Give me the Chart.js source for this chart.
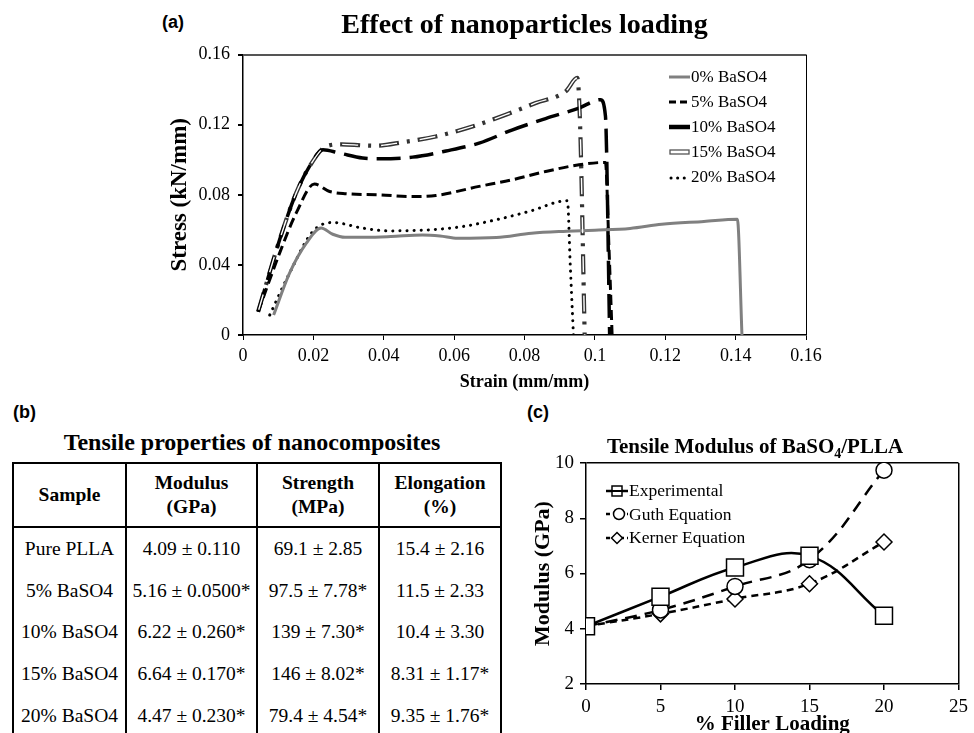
<!DOCTYPE html>
<html>
<head>
<meta charset="utf-8">
<script src="https://cdn.jsdelivr.net/npm/chart.js@4.4.1/dist/chart.umd.min.js"></script>
<style>
    html, body { margin: 0; padding: 0; background: #fff; }
    body { width: 974px; height: 733px; overflow: hidden; position: relative; font-family: 'Liberation Serif', 'Times New Roman', serif; color: #000; }
    canvas { position: absolute; }
    .panel-label { position: absolute; font-family: 'Liberation Sans', Arial, sans-serif; font-weight: bold; font-size: 18px; line-height: 18px; }
    .html-title { position: absolute; text-align: center; font-weight: bold; white-space: nowrap; }
    .legend { position: absolute; }
    .legend-row { display: flex; align-items: center; white-space: nowrap; }
    .legend-row svg { flex: none; }
    #propsTable { position: absolute; left: 12px; top: 462px; border-collapse: collapse; table-layout: fixed; width: 488px; font-size: 19.5px; }
    #propsTable th { border: 2px solid #000; height: 62px; padding: 0; font-weight: bold; line-height: 24px; text-align: center; }
    #propsTable td { border-left: 2px solid #000; border-right: 2px solid #000; height: 41.7px; padding: 0; text-align: center; white-space: nowrap; overflow: visible; }
</style>
</head>
<body>
<div class="panel-label" style="left:162px; top:13px;">(a)</div>
<div class="panel-label" style="left:13px; top:403px;">(b)</div>
<div class="panel-label" style="left:527px; top:403px;">(c)</div>

<canvas id="stressChart" width="922" height="400" style="left:60px; top:0px;"></canvas>
<div class="legend" id="stressLegend" style="left:669px; top:64px;"></div>

<div class="html-title" style="left:52px; top:428px; width:400px; font-size:24px; line-height:28px;">Tensile properties of nanocomposites</div>
<table id="propsTable">
    <colgroup><col style="width:113px"><col style="width:131px"><col style="width:122px"><col style="width:122px"></colgroup>
    <thead id="propsHead"></thead>
    <tbody id="propsBody"></tbody>
</table>

<canvas id="modulusChart" width="454" height="300" style="left:520px; top:445px;"></canvas>
<div class="html-title" style="left:555px; top:434px; width:400px; font-size:21px; line-height:25px;">Tensile Modulus of BaSO<span style="font-size:14px; position:relative; top:5px;">4</span>/PLLA</div>
<div class="legend" id="modulusLegend" style="left:606px; top:479px;"></div>

<script>
// ---- Panel (a): stress-strain curves (strain mm/mm, stress kN/mm) ----
var strain0 = [0.0087, 0.0132, 0.0180, 0.0222, 0.0255, 0.0290, 0.0350, 0.0420, 0.0510, 0.0560, 0.0610, 0.0720, 0.0820, 0.0920, 0.1000, 0.1100, 0.1190, 0.1310, 0.1405, 0.1418];
var stress0 = [0.0114, 0.0352, 0.0524, 0.0610, 0.0575, 0.0558, 0.0558, 0.0562, 0.0571, 0.0565, 0.0552, 0.0556, 0.0581, 0.0592, 0.0598, 0.0608, 0.0632, 0.0648, 0.0661, 0.0];

var strain5 = [0.0043, 0.0104, 0.0151, 0.0203, 0.0246, 0.0293, 0.0388, 0.0482, 0.0548, 0.0671, 0.0766, 0.0860, 0.0955, 0.1030, 0.1040, 0.1049];
var stress5 = [0.0133, 0.0467, 0.0695, 0.0861, 0.0819, 0.0806, 0.0800, 0.0790, 0.0796, 0.0848, 0.0886, 0.0933, 0.0971, 0.0985, 0.0500, 0.0];

var strain10 = [0.0043, 0.0104, 0.0151, 0.0189, 0.0227, 0.0274, 0.0340, 0.0388, 0.0482, 0.0577, 0.0671, 0.0766, 0.0860, 0.0955, 0.1016, 0.1030, 0.1042];
var stress10 = [0.0133, 0.0543, 0.0810, 0.0962, 0.1057, 0.1038, 0.1010, 0.1006, 0.1015, 0.1050, 0.1095, 0.1171, 0.1235, 0.1295, 0.1343, 0.1250, 0.0];

var strain15 = [0.0043, 0.0104, 0.0151, 0.0189, 0.0236, 0.0280, 0.0340, 0.0378, 0.0454, 0.0548, 0.0652, 0.0747, 0.0832, 0.0917, 0.0950, 0.0958, 0.0971];
var stress15 = [0.0133, 0.0543, 0.0810, 0.0962, 0.1076, 0.1088, 0.1082, 0.1080, 0.1100, 0.1133, 0.1190, 0.1257, 0.1324, 0.1390, 0.1467, 0.1200, 0.0];

var strain20 = [0.0076, 0.0132, 0.0198, 0.0255, 0.0340, 0.0416, 0.0530, 0.0624, 0.0718, 0.0813, 0.0922, 0.0930, 0.0939];
var stress20 = [0.0114, 0.0352, 0.0590, 0.0642, 0.0610, 0.0594, 0.0600, 0.0619, 0.0657, 0.0705, 0.0766, 0.0400, 0.0];

var stressLabels = ["0% BaSO4", "5% BaSO4", "10% BaSO4", "15% BaSO4", "20% BaSO4"];

// ---- Panel (b): tensile properties table ----
var tableHeaders = ["Sample", "Modulus<br>(GPa)", "Strength<br>(MPa)", "Elongation<br>(%)"];
var sampleNames = ["Pure PLLA", "5% BaSO4", "10% BaSO4", "15% BaSO4", "20% BaSO4"];
var modulusText = ["4.09 \u00b1 0.110", "5.16 \u00b1 0.0500*", "6.22 \u00b1 0.260*", "6.64 \u00b1 0.170*", "4.47 \u00b1 0.230*"];
var strengthText = ["69.1 \u00b1 2.85", "97.5 \u00b1 7.78*", "139 \u00b1 7.30*", "146 \u00b1 8.02*", "79.4 \u00b1 4.54*"];
var elongationText = ["15.4 \u00b1 2.16", "11.5 \u00b1 2.33", "10.4 \u00b1 3.30", "8.31 \u00b1 1.17*", "9.35 \u00b1 1.76*"];

// ---- Panel (c): tensile modulus vs filler loading ----
var fillerLoading = [0, 5, 10, 15, 20];
var modulusExperimental = [4.09, 5.16, 6.22, 6.64, 4.47];
var modulusGuth = [4.09, 4.68, 5.53, 6.50, 9.74];
var modulusKerner = [4.09, 4.54, 5.08, 5.63, 7.14];
var modulusLabels = ["Experimental", "Guth Equation", "Kerner Equation"];

var SERIF = "'Liberation Serif', 'Times New Roman', serif";
Chart.defaults.font.family = SERIF;
Chart.defaults.color = "#000";

function toPoints(xs, ys) {
    // Pair x and y arrays into {x, y} objects for a linear x axis.
    var points = [];
    for (var i = 0; i < xs.length; ++i) {
        points.push({ x: xs[i], y: ys[i] });
    }
    return points;
}

function isNear(a, b) {
    return Math.abs(a - b) < 1e-9;
}

function curve(label, xs, ys, color, width, dash, extra) {
    var ds = {
        label: label,
        data: toPoints(xs, ys),
        borderColor: color,
        borderWidth: width,
        borderDash: dash,
        pointRadius: 0,
        fill: false,
        cubicInterpolationMode: 'monotone'
    };
    if (extra) {
        for (var k in extra) { ds[k] = extra[k]; }
    }
    return ds;
}

function createStressChart() {
    var canvas = document.getElementById("stressChart");
    new Chart(canvas, {
        type: 'line',
        data: {
            datasets: [
                // white core of the hollow 15% dashes, drawn on top
                curve("15 core", strain15, stress15, '#ffffff', 1.4, [16, 23], { borderDashOffset: -2 }),
                curve(stressLabels[0], strain0, stress0, '#808080', 3, []),
                curve(stressLabels[1], strain5, stress5, '#000000', 3, [10, 5]),
                curve(stressLabels[2], strain10, stress10, '#000000', 3.5, [24, 9]),
                curve(stressLabels[3], strain15, stress15, '#333333', 4.2, [20, 8, 3, 8]),
                curve(stressLabels[4], strain20, stress20, '#000000', 3, [0.1, 7], { borderCapStyle: 'round' })
            ]
        },
        options: {
            responsive: false,
            animation: false,
            layout: { padding: { left: 0, right: 176, top: 0, bottom: 0 } },
            plugins: {
                legend: { display: false },
                tooltip: { enabled: false },
                title: {
                    display: true,
                    fullSize: false,
                    text: 'Effect of nanoparticles loading',
                    color: '#000',
                    font: { family: SERIF, size: 28, weight: 'bold' },
                    padding: { top: 9, bottom: 12 }
                }
            },
            scales: {
                x: {
                    type: 'linear',
                    min: 0,
                    max: 0.16,
                    afterFit: function (scale) { scale.height = 65; },
                    ticks: {
                        stepSize: 0.02,
                        font: { size: 18 },
                        color: '#000',
                        padding: 5,
                        maxRotation: 0,
                        callback: function (v) { return String(Math.round(v * 100) / 100); }
                    },
                    grid: {
                        color: function (c) { return c.tick && isNear(c.tick.value, 0.16) ? '#000' : 'rgba(0,0,0,0)'; },
                        lineWidth: 1,
                        tickLength: 5,
                        tickColor: '#000'
                    },
                    border: { color: '#000', width: 1.5 },
                    title: {
                        display: true,
                        text: 'Strain (mm/mm)',
                        font: { size: 18, weight: 'bold' },
                        padding: { top: 0, bottom: 7 }
                    }
                },
                y: {
                    min: 0,
                    max: 0.16,
                    afterFit: function (scale) { scale.width = 183; },
                    ticks: {
                        stepSize: 0.04,
                        font: { size: 18 },
                        color: '#000',
                        padding: 8,
                        callback: function (v) { return String(Math.round(v * 100) / 100); }
                    },
                    grid: {
                        color: function (c) { return c.tick && isNear(c.tick.value, 0.16) ? '#555555' : 'rgba(0,0,0,0)'; },
                        lineWidth: 2,
                        tickLength: 5,
                        tickColor: '#000'
                    },
                    border: { color: '#000', width: 1.5 },
                    title: {
                        display: true,
                        text: 'Stress (kN/mm)',
                        font: { size: 23, weight: 'bold' },
                        padding: { top: 106, bottom: 0 }
                    }
                }
            }
        }
    });
}

function createModulusChart() {
    var canvas = document.getElementById("modulusChart");
    var common = { borderColor: '#000', pointBorderColor: '#000', pointBackgroundColor: '#fff', pointBorderWidth: 1.5, tension: 0.4, fill: false };
    function series(label, values, dash, style, radius) {
        var ds = { label: label, data: toPoints(fillerLoading, values), borderDash: dash, pointStyle: style, pointRadius: radius, borderWidth: 2.5 };
        for (var k in common) { ds[k] = common[k]; }
        return ds;
    }
    new Chart(canvas, {
        type: 'line',
        data: {
            datasets: [
                series(modulusLabels[0], modulusExperimental, [], 'rect', 12),
                series(modulusLabels[1], modulusGuth, [12, 8], 'circle', 8),
                series(modulusLabels[2], modulusKerner, [7, 5], 'rectRot', 8)
            ]
        },
        options: {
            responsive: false,
            animation: false,
            layout: { padding: { left: 0, right: 13, top: 18, bottom: 0 } },
            plugins: { legend: { display: false }, tooltip: { enabled: false } },
            scales: {
                x: {
                    type: 'linear',
                    min: 0,
                    max: 25,
                    afterFit: function (scale) { scale.height = 61; },
                    ticks: { stepSize: 5, font: { size: 19 }, color: '#000', padding: 6, maxRotation: 0 },
                    grid: {
                        color: function (c) { return c.tick && c.tick.value === 25 ? '#000' : 'rgba(0,0,0,0)'; },
                        lineWidth: 1.5,
                        tickLength: 6,
                        tickColor: '#000'
                    },
                    border: { color: '#000', width: 1.5 },
                    title: {
                        display: true,
                        text: '% Filler Loading',
                        font: { size: 21, weight: 'bold' },
                        padding: { top: 0, bottom: 8 }
                    }
                },
                y: {
                    min: 2,
                    max: 10,
                    afterFit: function (scale) { scale.width = 66; },
                    ticks: { stepSize: 2, font: { size: 19 }, color: '#000', padding: 6 },
                    grid: {
                        color: function (c) { return c.tick && c.tick.value === 10 ? '#000' : 'rgba(0,0,0,0)'; },
                        lineWidth: 1.5,
                        tickLength: 6,
                        tickColor: '#000'
                    },
                    border: { color: '#000', width: 1.5 },
                    title: {
                        display: true,
                        text: 'Modulus (GPa)',
                        font: { size: 22, weight: 'bold' },
                        padding: { top: 10, bottom: 0 }
                    }
                }
            }
        }
    });
}

function buildLegend(containerId, labels, samples, rowHeight, fontSize) {
    // Small HTML legend: an svg line sample followed by the label text.
    var box = document.getElementById(containerId);
    for (var i = 0; i < labels.length; ++i) {
        var row = document.createElement("div");
        row.setAttribute("class", "legend-row");
        row.style.height = rowHeight + "px";
        row.style.fontSize = fontSize + "px";
        row.innerHTML = samples[i] + "<span style='margin-left:1px'>" + labels[i] + "</span>";
        box.appendChild(row);
    }
}

function buildTable() {
    var head = document.getElementById("propsHead");
    var body = document.getElementById("propsBody");
    var tr = document.createElement("tr");
    for (var h = 0; h < tableHeaders.length; ++h) {
        var th = document.createElement("th");
        th.innerHTML = tableHeaders[h];
        tr.appendChild(th);
    }
    head.appendChild(tr);
    for (var r = 0; r < sampleNames.length; ++r) {
        var row = document.createElement("tr");
        var cells = [sampleNames[r], modulusText[r], strengthText[r], elongationText[r]];
        for (var c = 0; c < cells.length; ++c) {
            var td = document.createElement("td");
            td.textContent = cells[c];
            row.appendChild(td);
        }
        body.appendChild(row);
    }
}

var stressSamples = [
    "<svg width='21' height='12'><line x1='0' y1='6' x2='21' y2='6' stroke='#808080' stroke-width='3'/></svg>",
    "<svg width='21' height='12'><line x1='0' y1='6' x2='19' y2='6' stroke='#000' stroke-width='3' stroke-dasharray='7,4'/></svg>",
    "<svg width='21' height='12'><line x1='0' y1='6' x2='21' y2='6' stroke='#000' stroke-width='4.5'/></svg>",
    "<svg width='21' height='12'><rect x='1' y='4' width='19' height='4' fill='#fff' stroke='#555' stroke-width='1.3'/></svg>",
    "<svg width='21' height='12'><line x1='2' y1='7' x2='21' y2='7' stroke='#000' stroke-width='3' stroke-linecap='round' stroke-dasharray='0.1,6.5'/></svg>"
];
var modulusSamples = [
    "<svg width='22' height='14'><line x1='0' y1='7' x2='22' y2='7' stroke='#000' stroke-width='2.5'/><rect x='6' y='2' width='10' height='10' fill='#fff' stroke='#000' stroke-width='1.5'/><line x1='6' y1='7' x2='16' y2='7' stroke='#000' stroke-width='2'/></svg>",
    "<svg width='22' height='14'><line x1='0' y1='7' x2='22' y2='7' stroke='#000' stroke-width='2.5' stroke-dasharray='4,3'/><circle cx='13' cy='7' r='5.5' fill='#fff' stroke='#000' stroke-width='1.5'/></svg>",
    "<svg width='22' height='14'><line x1='0' y1='7' x2='22' y2='7' stroke='#000' stroke-width='2.5' stroke-dasharray='4,3'/><polygon points='11,1.5 16.5,7 11,12.5 5.5,7' fill='#fff' stroke='#000' stroke-width='1.5'/></svg>"
];

createStressChart();
createModulusChart();
buildLegend("stressLegend", stressLabels, stressSamples, 25, 17);
buildLegend("modulusLegend", modulusLabels, modulusSamples, 23.5, 17.5);
buildTable();
</script>
</body>
</html>
